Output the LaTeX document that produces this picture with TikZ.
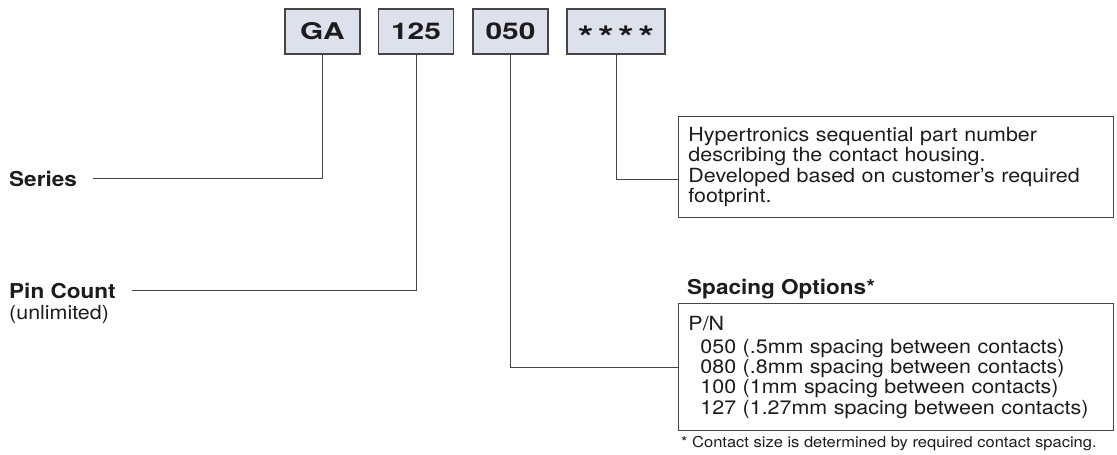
\documentclass[tikz,border=0pt]{standalone}
\usepackage{fontspec}
\setmainfont[FakeStretch=1.1]{TeX Gyre Heros}
\newfontfamily\pnfont[FakeStretch=1.3]{TeX Gyre Heros}
\usetikzlibrary{positioning,calc}
\definecolor{pnfill}{RGB}{220,225,236}
\definecolor{ink}{RGB}{30,27,28}
\definecolor{rule}{RGB}{70,70,70}

\begin{document}
\begin{tikzpicture}[
                x=1pt, y=-1pt,
                pn/.style={draw=rule, line width=1.1pt, fill=pnfill, minimum width=75pt, minimum height=45pt, inner sep=0pt, text=ink, font=\pnfont\bfseries\fontsize{23}{23}\selectfont},
                lab/.style={anchor=base west, inner sep=0pt, text=ink, font=\bfseries\fontsize{20.5}{20.5}\selectfont},
                note/.style={anchor=base west, inner sep=0pt, text=ink, font=\fontsize{19.5}{20.3}\selectfont},
                desc/.style={draw=rule, line width=0.9pt, anchor=north west, align=left, text width=415pt, inner xsep=10pt, inner ysep=11pt, text=ink, font=\fontsize{19.5}{20.3}\selectfont},
                ln/.style={draw=rule, line width=0.9pt}
            ]
                \useasboundingbox (0,0) rectangle (1117,455);

% part number boxes
                \node[pn] (ga) at (322.5,31.5) {GA};
                \node[pn] (c125) at (416,31.5) {125};
                \node[pn] (c050) at (510.5,31.5) {050};
                \node[pn, minimum width=98pt, font=\pnfont\bfseries\fontsize{31}{31}\selectfont, text height=34pt, text depth=0pt] (stars) at (616,31.5) {*\hspace{4.5pt}*\hspace{4.5pt}*\hspace{4.5pt}*};

% labels
                \node[lab] (series) at (9,186) {Series};
                \node[lab] (pin) at (9,298) {Pin Count};
                \node[note] (pinnote) at (9,319) {(unlimited)};
                \node[lab] (optsttl) at (687,294) {Spacing Options*};

                \node[desc] (desc) at (678,116) {Hypertronics sequential part number\\describing the contact housing.\\Developed based on customer’s required\\footprint.};
                \node[desc, inner ysep=12.5pt] (opts) at (678,303) {P/N\\[2.7pt]
                    \hspace*{12pt}050 (.5mm spacing between contacts)\\
                    \hspace*{12pt}080 (.8mm spacing between contacts)\\
                    \hspace*{12pt}100 (1mm spacing between contacts)\\
                    \hspace*{12pt}127 (1.27mm spacing between contacts)};
                \node[note, font=\fontsize{15}{18}\selectfont] (fn) at (681,447) {* Contact size is determined by required contact spacing.};

% connectors
                \draw[ln] (ga.south) |- ([xshift=16pt]series.east);
                \draw[ln] (c125.south) |- ([xshift=16pt]pin.east);
                \draw[ln] (c050.south) |- (opts.west);
                \draw[ln] (stars.south) |- ($(desc.west)+(0,12.5)$);

            \end{tikzpicture}
\end{document}
